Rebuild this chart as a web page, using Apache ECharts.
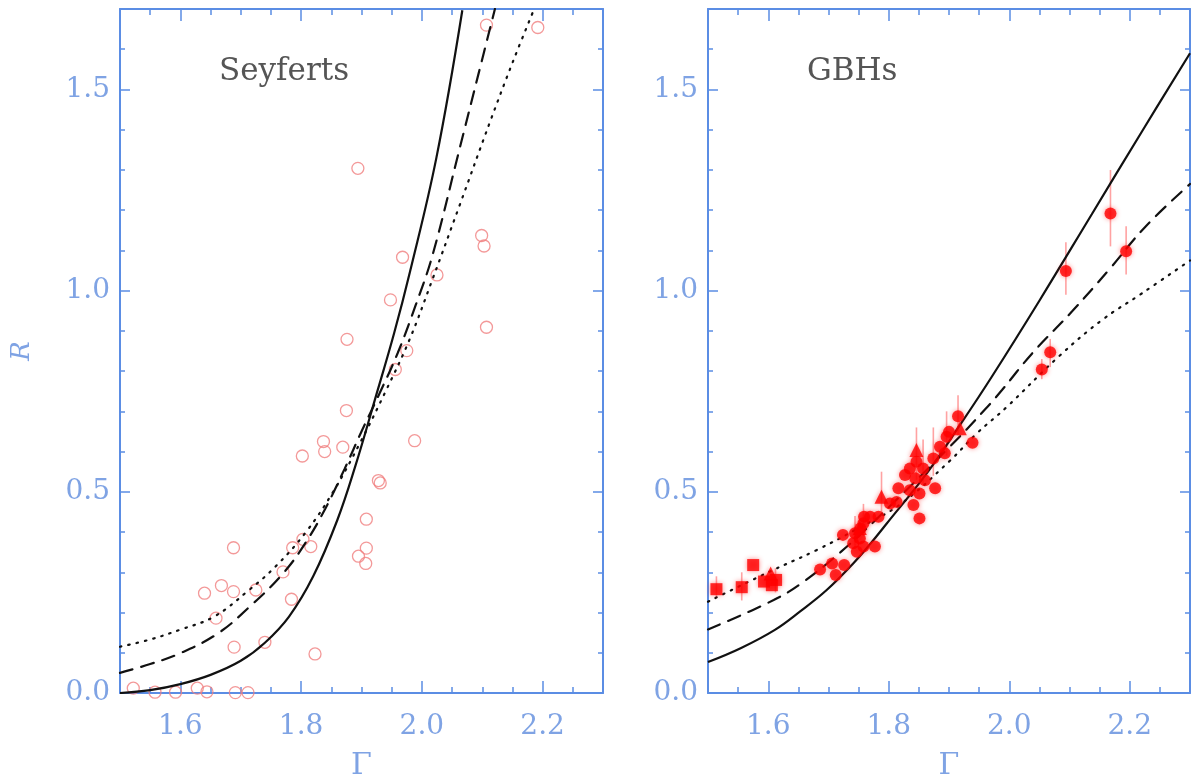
<!DOCTYPE html>
<html>
<head>
<meta charset="utf-8">
<title>R vs Gamma: Seyferts and GBHs</title>
<script src="https://cdn.jsdelivr.net/npm/echarts@6/dist/echarts.min.js"></script>
<style>
html, body { margin: 0; padding: 0; background: #fff; }
#chart { width: 1192px; height: 778px; }
</style>
</head>
<body>
<div id="chart"></div>
<script>
// tick values
const xMajor = [1.6, 1.8, 2.0, 2.2]
const xMinor = [1.55, 1.65, 1.7, 1.75, 1.85, 1.9, 1.95, 2.05, 2.1, 2.15, 2.25]
const yMajor = [0, 0.5, 1.0, 1.5]
const yMinor = [0.1, 0.2, 0.3, 0.4, 0.6, 0.7, 0.8, 0.9, 1.1, 1.2, 1.3, 1.4, 1.6]

// Seyferts [Γ, R]
const seyferts = [
  [2.107, 1.66], [2.192, 1.654], [1.894, 1.304], [2.099, 1.137], [2.103, 1.111],
  [1.968, 1.083], [2.025, 1.039], [1.948, 0.977], [2.107, 0.909], [1.876, 0.879],
  [1.975, 0.851], [1.956, 0.804], [1.875, 0.702], [1.988, 0.627], [1.837, 0.625],
  [1.839, 0.600], [1.802, 0.589], [1.869, 0.611], [1.928, 0.528], [1.931, 0.522],
  [1.908, 0.432], [1.688, 0.361], [1.786, 0.361], [1.803, 0.382], [1.816, 0.364],
  [1.908, 0.360], [1.895, 0.340], [1.907, 0.322], [1.770, 0.301], [1.640, 0.248],
  [1.668, 0.267], [1.688, 0.252], [1.725, 0.256], [1.659, 0.186], [1.784, 0.233],
  [1.689, 0.114], [1.740, 0.126], [1.823, 0.097],
  [1.522, 0.012], [1.558, 0.002], [1.592, 0.002], [1.628, 0.012], [1.644, 0.003],
  [1.691, 0.001], [1.712, 0.001]
]

// model curves, left panel
const seySolid = [
  [1.5, 0.0], [1.55, 0.007], [1.6, 0.022], [1.65, 0.045], [1.7, 0.08], [1.74, 0.125],
  [1.78, 0.19], [1.82, 0.29], [1.86, 0.43], [1.89, 0.565], [1.922, 0.728],
  [1.954, 0.894], [1.98, 1.045], [2.024, 1.33], [2.067, 1.697]
]
const seyDashed = [
  [1.5, 0.05], [1.55, 0.072], [1.6, 0.099], [1.662, 0.148], [1.713, 0.212],
  [1.77, 0.297], [1.808, 0.375], [1.84, 0.458], [1.872, 0.557], [1.9, 0.65],
  [1.93, 0.745], [1.96, 0.845], [1.99, 0.965], [2.018, 1.09], [2.062, 1.35],
  [2.094, 1.54], [2.121, 1.70]
]
const seyDotted = [
  [1.5, 0.115], [1.55, 0.133], [1.599, 0.157], [1.656, 0.19], [1.713, 0.255],
  [1.758, 0.315], [1.808, 0.40], [1.853, 0.50], [1.897, 0.62], [1.94, 0.75],
  [1.98, 0.88], [2.018, 1.03], [2.062, 1.21], [2.113, 1.42], [2.151, 1.57], [2.186, 1.70]
]

// GBHs [Γ, R]
const gbhCircles = [
  [1.686, 0.307], [1.706, 0.322], [1.712, 0.293], [1.726, 0.318],
  [1.724, 0.393], [1.741, 0.372], [1.744, 0.397], [1.752, 0.384], [1.758, 0.364],
  [1.747, 0.351], [1.753, 0.409], [1.759, 0.438], [1.758, 0.422], [1.769, 0.438],
  [1.777, 0.364], [1.783, 0.438], [1.802, 0.471], [1.813, 0.475], [1.816, 0.509],
  [1.835, 0.504], [1.827, 0.542], [1.835, 0.558], [1.844, 0.534], [1.841, 0.467],
  [1.851, 0.496], [1.851, 0.434], [1.846, 0.575], [1.857, 0.558], [1.860, 0.529],
  [1.874, 0.583], [1.877, 0.509], [1.885, 0.612], [1.893, 0.596], [1.896, 0.637],
  [1.915, 0.688], [1.939, 0.622], [1.900, 0.649],
  [2.054, 0.804], [2.068, 0.847], [2.094, 1.049], [2.168, 1.192], [2.194, 1.098]
]
const gbhTriangles = [[1.788, 0.488], [1.846, 0.604], [1.918, 0.658], [1.604, 0.297], [1.752, 0.41]]
const gbhSquares = [[1.514, 0.258], [1.556, 0.263], [1.575, 0.318], [1.593, 0.277], [1.606, 0.268], [1.613, 0.281]]
// error bars [Γ, low, high]
const gbhErrors = [
  [2.168, 1.11, 1.30], [2.194, 1.04, 1.16], [2.094, 0.99, 1.12], [2.068, 0.81, 0.88],
  [2.054, 0.78, 0.83], [1.915, 0.64, 0.74], [1.896, 0.59, 0.70], [1.874, 0.54, 0.66],
  [1.857, 0.52, 0.63], [1.846, 0.53, 0.66], [1.788, 0.45, 0.55], [1.758, 0.39, 0.47],
  [1.744, 0.36, 0.44], [1.556, 0.23, 0.30], [1.514, 0.24, 0.29], [1.612, 0.25, 0.31]
]

// model curves, right panel
const gbhSolid = [
  [1.5, 0.077], [1.555, 0.112], [1.611, 0.157], [1.653, 0.203], [1.697, 0.256],
  [1.741, 0.322], [1.769, 0.37], [1.796, 0.42], [1.863, 0.546], [1.92, 0.67],
  [1.971, 0.786], [2.05, 0.975], [2.137, 1.19], [2.22, 1.395], [2.3, 1.59]
]
const gbhDashed = [
  [1.5, 0.158], [1.609, 0.231], [1.659, 0.277], [1.72, 0.35], [1.785, 0.44],
  [1.9, 0.61], [1.96, 0.705], [1.988, 0.753], [2.038, 0.844], [2.104, 0.948],
  [2.165, 1.051], [2.226, 1.159], [2.3, 1.265]
]
const gbhDotted = [
  [1.5, 0.227], [1.6, 0.30], [1.68, 0.355], [1.75, 0.41], [1.82, 0.47],
  [1.9, 0.575], [1.946, 0.645], [1.996, 0.711], [2.082, 0.836], [2.154, 0.927],
  [2.22, 0.993], [2.3, 1.075]
]

const axisBlue = '#5b8de4'
const labelBlue = '#7fa3e4'
const serif = 'DejaVu Serif'

const chart = echarts.init(document.getElementById('chart'))

const grids = [
  { left: 120, top: 9, width: 483, height: 684, outerBoundsMode: 'none' },
  { left: 708, top: 9, width: 482, height: 684, outerBoundsMode: 'none' }
]

const majorTick = (vals, len) => ({ show: true, inside: true, length: len, customValues: vals, lineStyle: { color: axisBlue, width: 1.5 } })
const frameLine = { show: true, onZero: false, lineStyle: { color: axisBlue, width: 2 } }
const noLine = { show: false, onZero: false }

const makeX = (gridIndex) => {
  const base = { type: 'value', gridIndex, min: 1.5, max: 2.3, splitLine: { show: false }, axisLabel: { show: false } }
  return [
    {
      ...base, position: 'bottom', axisLine: frameLine, axisTick: majorTick(xMajor, 12),
      axisLabel: {
        show: true, customValues: xMajor, formatter: v => v.toFixed(1), margin: 20,
        color: labelBlue, fontFamily: serif, fontSize: 28
      },
      name: 'Γ', nameLocation: 'middle', nameGap: 58,
      nameTextStyle: { color: labelBlue, fontFamily: serif, fontSize: 30, verticalAlign: 'top' }
    },
    { ...base, position: 'bottom', axisLine: noLine, axisTick: majorTick(xMinor, 6) },
    { ...base, position: 'top', axisLine: frameLine, axisTick: majorTick(xMajor, 12) },
    { ...base, position: 'top', axisLine: noLine, axisTick: majorTick(xMinor, 6) }
  ]
}

const makeY = (gridIndex, withName) => {
  const base = { type: 'value', gridIndex, min: 0, max: 1.7, splitLine: { show: false }, axisLabel: { show: false } }
  const main = {
    ...base, position: 'left', axisLine: frameLine, axisTick: majorTick(yMajor, 10),
    axisLabel: {
      show: true, customValues: yMajor, formatter: v => v.toFixed(1), margin: 10,
      color: labelBlue, fontFamily: serif, fontSize: 28
    }
  }
  if (withName) {
    main.name = 'R'
    main.nameLocation = 'middle'
    main.nameGap = 85
    main.nameTextStyle = { color: labelBlue, fontFamily: serif, fontSize: 26, fontStyle: 'italic' }
  }
  return [
    main,
    { ...base, position: 'left', axisLine: noLine, axisTick: majorTick(yMinor, 5) },
    { ...base, position: 'right', axisLine: frameLine, axisTick: majorTick(yMajor, 10) },
    { ...base, position: 'right', axisLine: noLine, axisTick: majorTick(yMinor, 5) }
  ]
}

const curve = (data, g, type) => ({
  type: 'line', data, xAxisIndex: g * 4, yAxisIndex: g * 4,
  smooth: 0.4, showSymbol: false, silent: true, z: 3,
  lineStyle: { color: '#111', width: 2.2, type, cap: type === 'solid' ? 'butt' : 'round' }
})

const gbhStyle = { color: '#ff0000', shadowBlur: 5, shadowColor: 'rgba(255,0,0,0.55)' }

const option = {
  animation: false,
  backgroundColor: '#fff',
  grid: grids,
  xAxis: [...makeX(0), ...makeX(1)],
  yAxis: [...makeY(0, true), ...makeY(1, false)],
  graphic: [
    { type: 'text', left: 219, top: 56, style: { text: 'Seyferts', font: '31px "DejaVu Serif"', fill: '#555' } },
    { type: 'text', left: 807, top: 56, style: { text: 'GBHs', font: '31px "DejaVu Serif"', fill: '#555' } }
  ],
  series: [
    {
      type: 'scatter', data: seyferts, xAxisIndex: 0, yAxisIndex: 0, symbol: 'circle', symbolSize: 12, z: 2,
      itemStyle: { color: 'rgba(0,0,0,0)', borderColor: '#f08080', borderWidth: 1.3 }
    },
    curve(seySolid, 0, 'solid'),
    curve(seyDashed, 0, [13, 9]),
    curve(seyDotted, 0, [1.5, 7]),
    {
      type: 'custom', xAxisIndex: 4, yAxisIndex: 4, z: 1,
      data: gbhErrors,
      encode: { x: 0, y: [1, 2] },
      renderItem: (params, api) => {
        const p1 = api.coord([api.value(0), api.value(1)])
        const p2 = api.coord([api.value(0), api.value(2)])
        return {
          type: 'line',
          shape: { x1: p1[0], y1: p1[1], x2: p2[0], y2: p2[1] },
          style: { stroke: 'rgba(255,70,70,0.5)', lineWidth: 1.6 }
        }
      }
    },
    curve(gbhSolid, 1, 'solid'),
    curve(gbhDashed, 1, [13, 9]),
    curve(gbhDotted, 1, [1.5, 7]),
    { type: 'scatter', data: gbhSquares, xAxisIndex: 4, yAxisIndex: 4, symbol: 'rect', symbolSize: 12, z: 4, itemStyle: gbhStyle },
    { type: 'scatter', data: gbhTriangles, xAxisIndex: 4, yAxisIndex: 4, symbol: 'triangle', symbolSize: 14, z: 4, itemStyle: gbhStyle },
    { type: 'scatter', data: gbhCircles, xAxisIndex: 4, yAxisIndex: 4, symbol: 'circle', symbolSize: 12, z: 4, itemStyle: gbhStyle }
  ]
}

chart.setOption(option)
</script>
</body>
</html>
